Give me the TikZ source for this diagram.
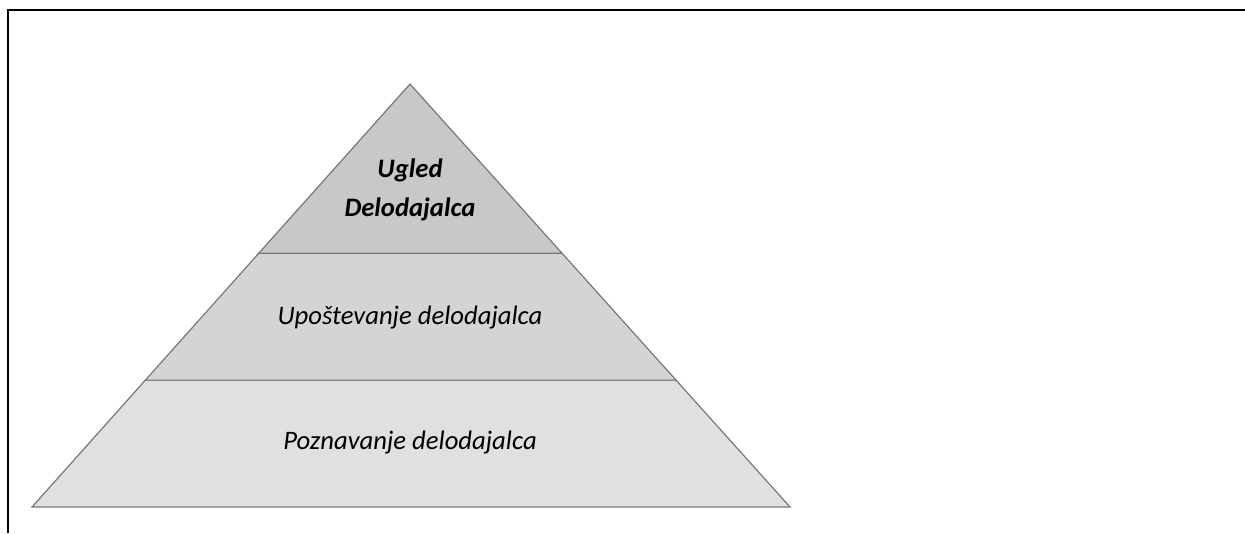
\documentclass[tikz,border=0pt]{standalone}
\usepackage{fontspec}
\setmainfont{Carlito}
\usetikzlibrary{calc}
\definecolor{tiertop}{RGB}{200,200,200}
\definecolor{tiermid}{RGB}{212,212,212}
\definecolor{tierlow}{RGB}{224,224,224}
\definecolor{tieredge}{RGB}{120,120,120}
\tikzset{
  tier/.style={draw=tieredge,line width=0.9pt,line join=miter},
  label/.style={font=\fontsize{20}{29}\selectfont\itshape,align=center,inner sep=0pt}
}
\begin{document}
\begin{tikzpicture}[x=0.75pt,y=-0.75pt]
  \useasboundingbox (0,0) rectangle (1245,533);
  % frame
  \draw[line width=1.7pt] (8,533) -- (8,10) -- (1245,10);
  % pyramid
  \coordinate (apex) at (410,84);
  \coordinate (bl) at (32,507);
  \coordinate (br) at (790,507);
  \coordinate (l1) at ($(apex)!0.4!(bl)$);
  \coordinate (r1) at ($(apex)!0.4!(br)$);
  \coordinate (l2) at ($(apex)!0.7!(bl)$);
  \coordinate (r2) at ($(apex)!0.7!(br)$);
  \filldraw[tier,fill=tierlow] (l2) -- (r2) -- (br) -- (bl) -- cycle;
  \filldraw[tier,fill=tiermid] (l1) -- (r1) -- (r2) -- (l2) -- cycle;
  \filldraw[tier,fill=tiertop] (apex) -- (r1) -- (l1) -- cycle;
  % labels
  \node[label,font=\fontsize{20}{29}\selectfont\bfseries\itshape] (ugled) at (410,190) {Ugled\\Delodajalca};
  \node[label] (upostevanje) at (410,318) {Upoštevanje delodajalca};
  \node[label] (poznavanje) at (410,443) {Poznavanje delodajalca};
\end{tikzpicture}
\end{document}
